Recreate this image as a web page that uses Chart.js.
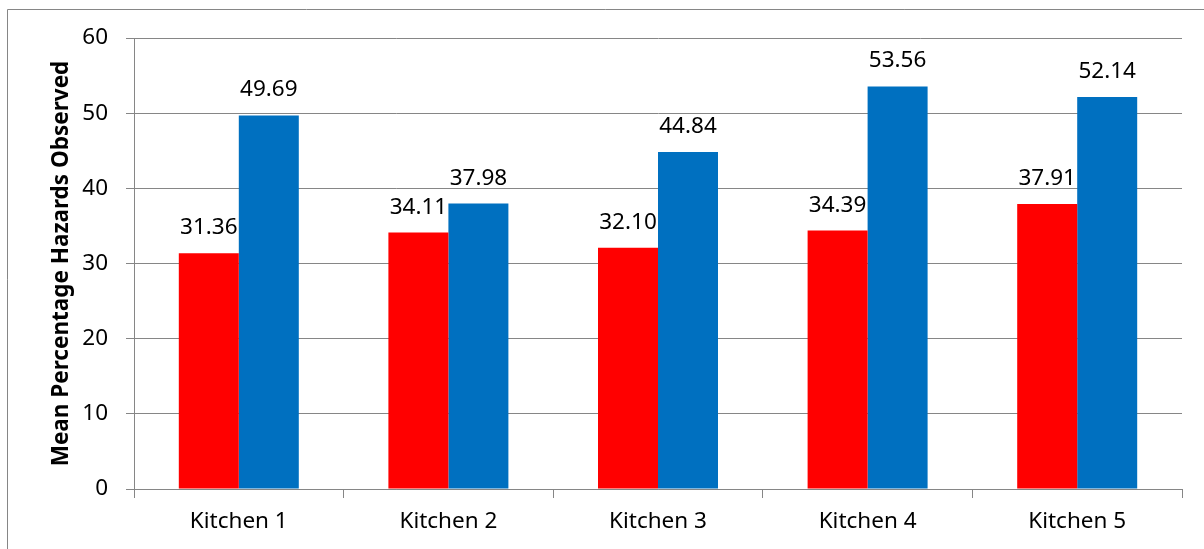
<!DOCTYPE html>
<html>
<head>
<meta charset="utf-8">
<script src="https://cdn.jsdelivr.net/npm/chart.js@4.4.1/dist/chart.umd.min.js"></script>
<style>
	html, body { margin: 0; padding: 0; background: #fff; }
	#wrap { width: 1204px; height: 549px; position: relative; }
</style>
</head>
<body>
<div id="wrap"><canvas id="hazards"></canvas></div>
<script>
const kitchens = ['Kitchen 1', 'Kitchen 2', 'Kitchen 3', 'Kitchen 4', 'Kitchen 5'];
const redValues = [31.36, 34.11, 32.10, 34.39, 37.91];
const blueValues = [49.69, 37.98, 44.84, 53.56, 52.14];
const yTicks = [0, 10, 20, 30, 40, 50, 60];

const FONT = '"Noto Sans", "Open Sans", sans-serif';
const GRID = '#868686';

// Outer frame (top and left edges) drawn behind the plot
const framePlugin = {
	id: 'frame',
	beforeDraw(chart) {
		const ctx = chart.ctx;
		ctx.save();
		ctx.fillStyle = '#fff';
		ctx.fillRect(0, 0, chart.width, chart.height);
		ctx.strokeStyle = GRID;
		ctx.lineWidth = 1;
		ctx.beginPath();
		ctx.moveTo(7.5, chart.height);
		ctx.lineTo(7.5, 9.5);
		ctx.lineTo(chart.width, 9.5);
		ctx.stroke();
		ctx.restore();
	}
};

// Value labels centred above each bar
const valueLabels = {
	id: 'valueLabels',
	afterDatasetsDraw(chart) {
		const ctx = chart.ctx;
		ctx.save();
		ctx.font = `22.5px ${FONT}`;
		ctx.fillStyle = '#000';
		ctx.textAlign = 'center';
		ctx.textBaseline = 'alphabetic';
		chart.data.datasets.forEach((ds, i) => {
			chart.getDatasetMeta(i).data.forEach((bar, j) => {
				ctx.fillText(ds.data[j].toFixed(2), bar.x, bar.y - 19);
			});
		});
		ctx.restore();
	}
};

new Chart(document.getElementById('hazards'), {
	type: 'bar',
	data: {
		labels: kitchens,
		datasets: [
			{ data: redValues, backgroundColor: '#ff0000' },
			{ data: blueValues, backgroundColor: '#0070c0' }
		]
	},
	options: {
		responsive: true,
		maintainAspectRatio: false,
		animation: false,
		categoryPercentage: 0.5725,
		barPercentage: 1,
		layout: { padding: { left: 0, top: 38, right: 22, bottom: 0 } },
		plugins: {
			legend: { display: false },
			tooltip: { enabled: false }
		},
		scales: {
			x: {
				grid: {
					drawOnChartArea: false,
					drawTicks: true,
					tickLength: 9,
					color: GRID
				},
				border: { display: true, color: GRID },
				ticks: {
					color: '#000',
					padding: 10,
					font: { family: FONT, size: 22.5 }
				},
				afterFit(scale) { scale.height = 60; }
			},
			y: {
				min: 0,
				max: 60,
				afterBuildTicks(scale) {
					scale.ticks = yTicks.map(v => ({ value: v }));
				},
				grid: { color: GRID, tickLength: 8 },
				border: { display: true, color: GRID },
				ticks: {
					color: '#000',
					padding: 18,
					font: { family: FONT, size: 22.5 }
				},
				title: {
					display: true,
					text: 'Mean Percentage Hazards Observed',
					color: '#000',
					padding: { top: 48, bottom: 0 },
					font: { family: FONT, size: 22.5, weight: 'bold' }
				},
				afterFit(scale) { scale.width = 134; }
			}
		}
	},
	plugins: [framePlugin, valueLabels]
});
</script>
</body>
</html>
